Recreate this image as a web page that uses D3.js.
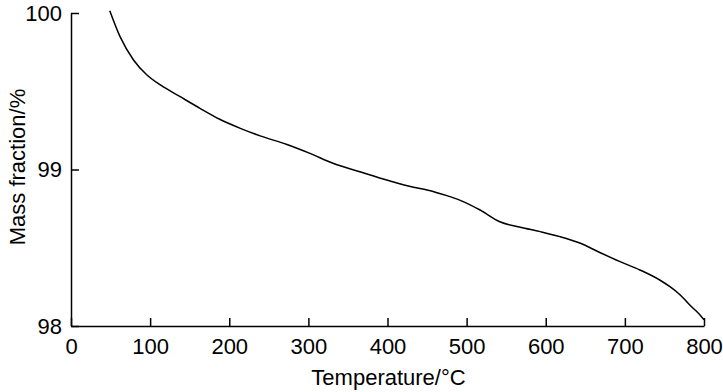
<!DOCTYPE html>
<html><head><meta charset="utf-8">
<script src="https://cdn.jsdelivr.net/npm/d3@7"></script>
<style>
body{margin:0;background:#fff;}
svg{display:block;font-family:"Liberation Sans",Arial,sans-serif;}
</style></head>
<body>
<svg id="chart" width="723" height="392"></svg>
<script>
const temperature = [49, 62, 79, 96, 113, 138, 163, 188, 214, 239, 273, 302, 332, 365, 399, 433, 450, 475, 492, 517, 542, 568, 593, 618, 643, 669, 694, 719, 744, 757, 770, 782, 793, 800];
const massFraction = [100.015, 99.849, 99.700, 99.604, 99.540, 99.465, 99.391, 99.321, 99.263, 99.215, 99.160, 99.103, 99.038, 98.986, 98.933, 98.886, 98.869, 98.833, 98.803, 98.741, 98.666, 98.631, 98.603, 98.571, 98.530, 98.468, 98.411, 98.358, 98.294, 98.251, 98.198, 98.134, 98.081, 98.040];
const xTicks = [0, 100, 200, 300, 400, 500, 600, 700, 800];
const yTicks = [98, 99, 100];
const xLabel = "Temperature/°C";
const yLabel = "Mass fraction/%";

const svg = d3.select("#chart");
const x = d3.scaleLinear().domain([0, 800]).range([71, 704]);
const y = d3.scaleLinear().domain([98, 100]).range([326, 13]);

const data = temperature.map((t, i) => ({t, m: massFraction[i]}));

svg.append("path")
  .datum(data)
  .attr("fill", "none")
  .attr("stroke", "#000")
  .attr("stroke-width", 1.5)
  .attr("d", d3.line().x(d => x(d.t)).y(d => y(d.m)).curve(d3.curveMonotoneX));

const xAxis = svg.append("g").attr("transform", `translate(0,${y(98)})`)
  .call(d3.axisBottom(x).tickValues(xTicks).tickSizeInner(-8).tickSizeOuter(0).tickPadding(12));
const yAxis = svg.append("g").attr("transform", `translate(${x(0)},0)`)
  .call(d3.axisLeft(y).tickValues(yTicks).tickFormat(d3.format("d")).tickSizeInner(-8).tickSizeOuter(0).tickPadding(9));

[xAxis, yAxis].forEach(g => {
  g.select(".domain").attr("stroke", "#000").attr("stroke-width", 1.5);
  g.selectAll(".tick line").attr("stroke", "#000").attr("stroke-width", 1.5);
  g.selectAll(".tick text").attr("fill", "#000").style("font-size", "22px").style("font-family", "'Liberation Sans', Arial, sans-serif");
});
xAxis.selectAll(".tick text").attr("dy", "0.71em");

svg.append("text")
  .attr("x", (x(0) + x(800)) / 2 + 1).attr("y", 385)
  .attr("text-anchor", "middle").style("font-size", "22px").text(xLabel);

svg.append("text")
  .attr("transform", `translate(25,167) rotate(-90)`)
  .attr("text-anchor", "middle").style("font-size", "22px").text(yLabel);
</script>
</body></html>
